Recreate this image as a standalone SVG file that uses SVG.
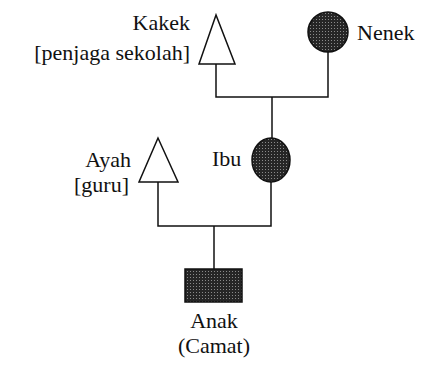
<svg xmlns="http://www.w3.org/2000/svg" width="422" height="369" viewBox="0 0 422 369">
<defs>
<pattern id="stip" width="3" height="3" patternUnits="userSpaceOnUse">
<rect width="3" height="3" fill="#262626"/>
<rect x="1" y="1" width="1" height="1" fill="#8a8a8a"/>
</pattern>
</defs>
<style>
.t{font-family:"Liberation Serif","Times New Roman",serif;font-size:22px;fill:#111}
.m{fill:#fff;stroke:#111;stroke-width:1.5}
.f{fill:url(#stip);stroke:#111;stroke-width:1.5}
.c{fill:none;stroke:#111;stroke-width:1.5}
</style>
<rect width="422" height="369" fill="#fff"/>
<g id="connectors">
<polyline class="c" points="216,64 216,97 328,97 328,52"/>
<line class="c" x1="272" y1="97" x2="272" y2="138"/>
<polyline class="c" points="158,182 158,226 271,226 271,182"/>
<line class="c" x1="214" y1="226" x2="214" y2="269"/>
</g>
<g id="kakek">
<polygon class="m" points="216,15 199,64 235,64"/>
<text class="t" x="190" y="30" text-anchor="end">Kakek</text>
<text class="t" x="190" y="60" text-anchor="end">[penjaga sekolah]</text>
</g>
<g id="nenek">
<ellipse class="f" cx="328" cy="32" rx="20" ry="20"/>
<text class="t" x="357" y="40">Nenek</text>
</g>
<g id="ayah">
<polygon class="m" points="158,138 139,182 178,182"/>
<text class="t" x="131" y="167" text-anchor="end">Ayah</text>
<text class="t" x="129" y="192" text-anchor="end">[guru]</text>
</g>
<g id="ibu">
<ellipse class="f" cx="271" cy="160" rx="19" ry="22"/>
<text class="t" x="212" y="166">Ibu</text>
</g>
<g id="anak">
<rect class="f" x="185" y="269" width="57" height="33"/>
<text class="t" x="214" y="328" text-anchor="middle">Anak</text>
<text class="t" x="214" y="353" text-anchor="middle">(Camat)</text>
</g>
</svg>
